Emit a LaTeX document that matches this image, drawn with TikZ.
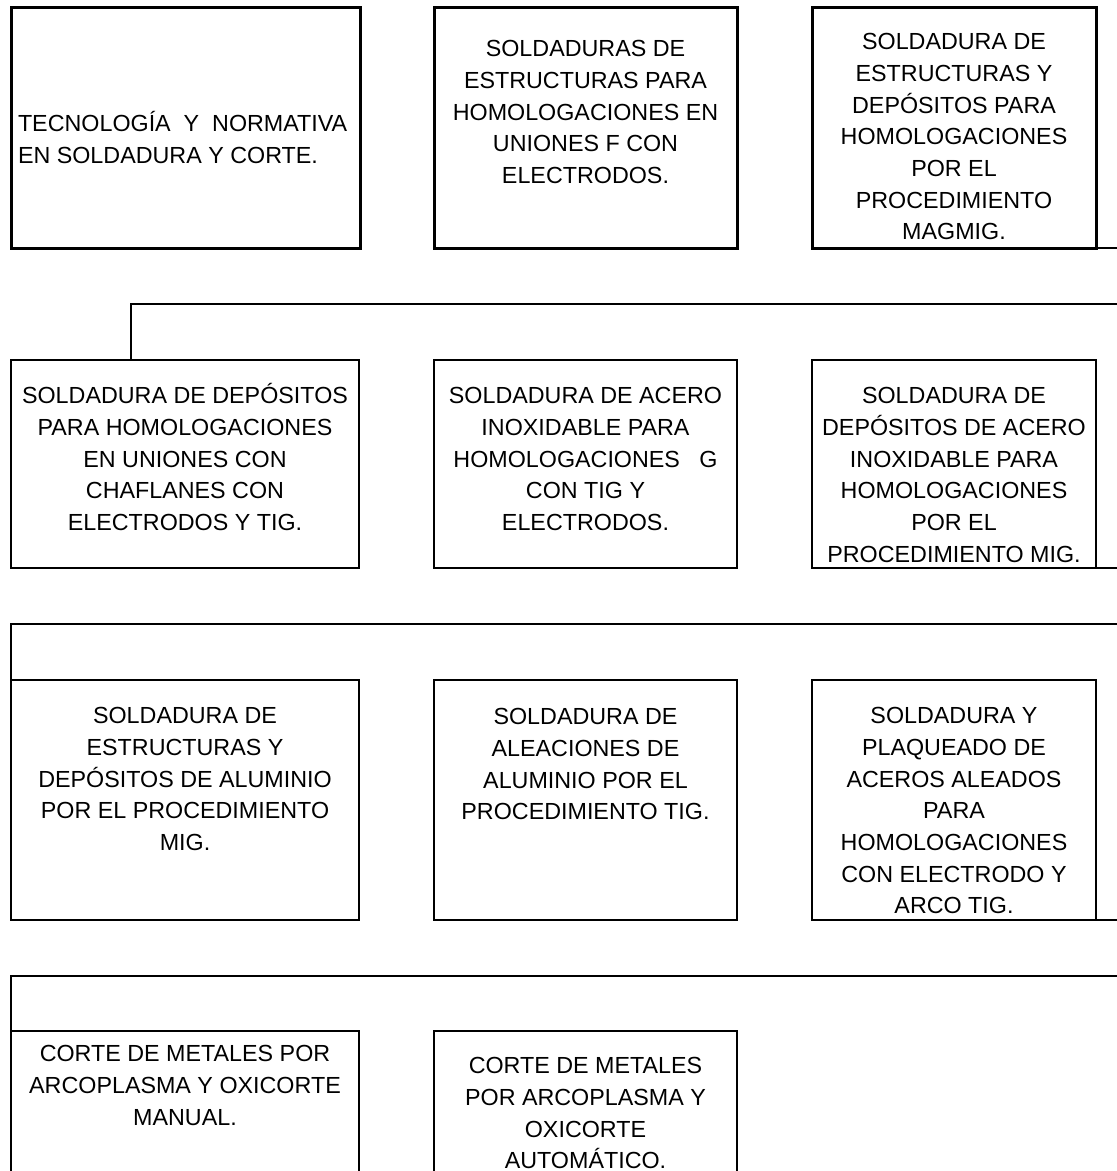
\documentclass[tikz,border=0pt]{standalone}
\usepackage{fontspec}
\setmainfont{Liberation Sans}
\begin{document}
\begin{tikzpicture}[x=1pt,y=-1pt,
  thickbox/.style={draw=black,line width=3pt,inner sep=0pt,outer sep=0pt},
  thinbox/.style={draw=black,line width=2pt,inner sep=0pt,outer sep=0pt},
  link/.style={draw=black,line width=2pt},
  txt/.style={inner sep=0pt,outer sep=0pt,align=center,anchor=north,
    font=\fontsize{23.3}{31.7}\selectfont}]
\useasboundingbox (0,0) rectangle (1117,1171);
\fill[white] (0,0) rectangle (1117,1171);
\begin{scope}
\clip (0,0) rectangle (1117,1171);
% row 1
\node[thickbox,minimum width=349pt,minimum height=241pt] (b1) at (185.5,127.5) {};
\node[thickbox,minimum width=303pt,minimum height=241pt] (b2) at (585.5,127.5) {};
\node[thickbox,minimum width=284pt,minimum height=241pt] (b3) at (954,127.5) {};
\node[txt,anchor=north west,align=left] (t1) at (18,109.5) {\strut TECNOLOGÍA\ \ Y\ \ NORMATIVA\\EN SOLDADURA Y CORTE.};
\node[txt] (t2) at (585.5,34.5) {\strut SOLDADURAS DE\\ESTRUCTURAS PARA\\HOMOLOGACIONES EN\\UNIONES F CON\\ELECTRODOS.};
\node[txt] (t3) at (954,27.5) {\strut SOLDADURA DE\\ESTRUCTURAS Y\\DEPÓSITOS PARA\\HOMOLOGACIONES\\POR EL\\PROCEDIMIENTO\\MAGMIG.};
\coordinate (e3) at (1120,248);
\draw[link] (b3.south east) -- (e3);
% row 2
\node[thinbox,minimum width=348pt,minimum height=208pt] (b4) at (185,464) {};
\node[thinbox,minimum width=303pt,minimum height=208pt] (b5) at (585.5,464) {};
\node[thinbox,minimum width=284pt,minimum height=208pt] (b6) at (954,464) {};
\node[txt] (t4) at (185,381.5) {\strut SOLDADURA DE DEPÓSITOS\\PARA HOMOLOGACIONES\\EN UNIONES CON\\CHAFLANES CON\\ELECTRODOS Y TIG.};
\node[txt] (t5) at (585.5,381.5) {\strut SOLDADURA DE ACERO\\INOXIDABLE PARA\\HOMOLOGACIONES\ \ \ G\\CON TIG Y\\ELECTRODOS.};
\node[txt] (t6) at (954,381.5) {\strut SOLDADURA DE\\DEPÓSITOS DE ACERO\\INOXIDABLE PARA\\HOMOLOGACIONES\\POR EL\\PROCEDIMIENTO MIG.};
\coordinate (r2a) at (131,304);
\coordinate (r2b) at (1120,304);
\coordinate (r2c) at (131,360);
\draw[link] (r2b) -- (r2a) -- (r2c);
\coordinate (e6) at (1120,568);
\draw[link] (b6.south east) -- (e6);
% row 3
\node[thinbox,minimum width=348pt,minimum height=240pt] (b7) at (185,800) {};
\node[thinbox,minimum width=303pt,minimum height=240pt] (b8) at (585.5,800) {};
\node[thinbox,minimum width=284pt,minimum height=240pt] (b9) at (954,800) {};
\node[txt] (t7) at (185,701.5) {\strut SOLDADURA DE\\ESTRUCTURAS Y\\DEPÓSITOS DE ALUMINIO\\POR EL PROCEDIMIENTO\\MIG.};
\node[txt] (t8) at (585.5,702.5) {\strut SOLDADURA DE\\ALEACIONES DE\\ALUMINIO POR EL\\PROCEDIMIENTO TIG.};
\node[txt] (t9) at (954,701.5) {\strut SOLDADURA Y\\PLAQUEADO DE\\ACEROS ALEADOS\\PARA\\HOMOLOGACIONES\\CON ELECTRODO Y\\ARCO TIG.};
\coordinate (r3a) at (11,624);
\coordinate (r3b) at (1120,624);
\draw[link] (r3b) -- (r3a) -- (b7.north west);
\coordinate (e9) at (1120,920);
\draw[link] (b9.south east) -- (e9);
% row 4
\node[thinbox,minimum width=348pt,minimum height=180pt] (b10) at (185,1121) {};
\node[thinbox,minimum width=303pt,minimum height=180pt] (b11) at (585.5,1121) {};
\node[txt] (t10) at (185,1039.5) {\strut CORTE DE METALES POR\\ARCOPLASMA Y OXICORTE\\MANUAL.};
\node[txt] (t11) at (585.5,1051.5) {\strut CORTE DE METALES\\POR ARCOPLASMA Y\\OXICORTE\\AUTOMÁTICO.};
\coordinate (r4a) at (11,976);
\coordinate (r4b) at (1120,976);
\draw[link] (r4b) -- (r4a) -- (b10.north west);
\end{scope}
\end{tikzpicture}
\end{document}
